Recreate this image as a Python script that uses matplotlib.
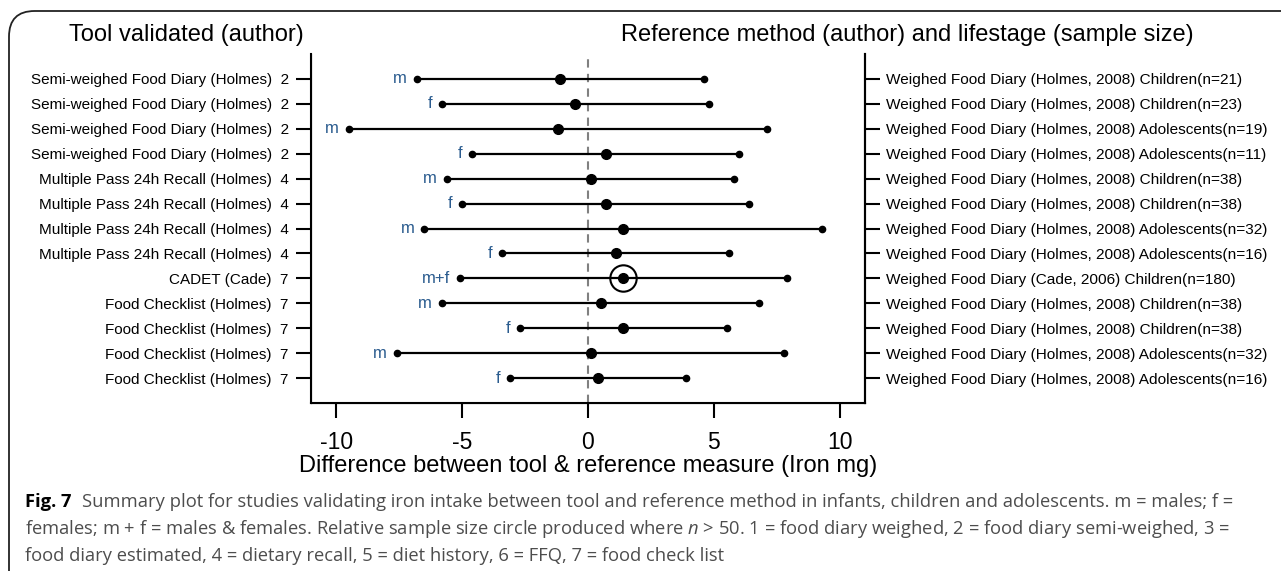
import matplotlib.pyplot as plt
from matplotlib.patches import FancyBboxPatch

plt.rcParams['font.family'] = ['Liberation Sans', 'DejaVu Sans']
plt.rcParams['mathtext.fontset'] = 'custom'
plt.rcParams['mathtext.it'] = 'Open Sans:italic'

tool_names = ['Semi-weighed Food Diary (Holmes)'] * 4 + ['Multiple Pass 24h Recall (Holmes)'] * 4 + \
             ['CADET (Cade)'] + ['Food Checklist (Holmes)'] * 4
tool_codes = ['2', '2', '2', '2', '4', '4', '4', '4', '7', '7', '7', '7', '7']
ref_labels = ['Weighed Food Diary (Holmes, 2008) Children(n=21)',
              'Weighed Food Diary (Holmes, 2008) Children(n=23)',
              'Weighed Food Diary (Holmes, 2008) Adolescents(n=19)',
              'Weighed Food Diary (Holmes, 2008) Adolescents(n=11)',
              'Weighed Food Diary (Holmes, 2008) Children(n=38)',
              'Weighed Food Diary (Holmes, 2008) Children(n=38)',
              'Weighed Food Diary (Holmes, 2008) Adolescents(n=32)',
              'Weighed Food Diary (Holmes, 2008) Adolescents(n=16)',
              'Weighed Food Diary (Cade, 2006) Children(n=180)',
              'Weighed Food Diary (Holmes, 2008) Children(n=38)',
              'Weighed Food Diary (Holmes, 2008) Children(n=38)',
              'Weighed Food Diary (Holmes, 2008) Adolescents(n=32)',
              'Weighed Food Diary (Holmes, 2008) Adolescents(n=16)']
sample_n = [21, 23, 19, 11, 38, 38, 32, 16, 180, 38, 38, 32, 16]
sex = ['m', 'f', 'm', 'f', 'm', 'f', 'm', 'f', 'm+f', 'm', 'f', 'm', 'f']
lower = [-6.8, -5.8, -9.5, -4.6, -5.6, -5.0, -6.5, -3.4, -5.1, -5.8, -2.7, -7.6, -3.1]
mean = [-1.1, -0.5, -1.2, 0.7, 0.1, 0.7, 1.4, 1.1, 1.4, 0.5, 1.4, 0.1, 0.4]
upper = [4.6, 4.8, 7.1, 6.0, 5.8, 6.4, 9.3, 5.6, 7.9, 6.8, 5.5, 7.8, 3.9]

W, H = 1281, 571
fig = plt.figure(figsize=(W / 100, H / 100), dpi=100)
ax = fig.add_axes([311 / W, 1 - 403 / H, (865 - 311) / W, (403 - 54) / H])

rows = list(range(1, len(mean) + 1))
lab_col = '#2b5c8f'

ax.axvline(0, color='#808080', lw=1.5, ls=(0, (4, 3)), zorder=1)
for y, lo, m, hi, s, n in zip(rows, lower, mean, upper, sex, sample_n):
    ax.plot([lo, hi], [y, y], color='black', lw=1.6, zorder=2)
    ax.plot([lo, hi], [y, y], 'o', color='black', ms=4.5, zorder=3)
    ax.plot(m, y, 'o', color='black', ms=7, zorder=4)
    if n > 50:
        ax.plot(m, y, 'o', mfc='none', mec='black', mew=1.5, ms=19, zorder=4)
    ax.annotate(s, (lo, y), xytext=(-7, 0), textcoords='offset points',
                ha='right', va='center', fontsize=12, color=lab_col)

ax.set_xlim(-11, 11)
ax.set_ylim(len(mean) + 1, 0)
ax.set_xticks([-10, -5, 0, 5, 10])
ax.set_xticklabels(['-10', '-5', '0', '5', '10'])
ax.set_yticks(rows)
ax.set_yticklabels([f'{t}  {c}' for t, c in zip(tool_names, tool_codes)])
ax.tick_params(axis='y', length=11, width=1.5, pad=5, labelsize=11)
ax.tick_params(axis='x', length=11, width=1.5, pad=9, labelsize=16.5)
ax.spines['top'].set_visible(False)
for sp in ['left', 'right', 'bottom']:
    ax.spines[sp].set_linewidth(1.5)
ax.set_xlabel('Difference between tool & reference measure (Iron mg)', fontsize=17, labelpad=1)

ax2 = ax.twinx()
ax2.set_ylim(len(mean) + 1, 0)
ax2.set_yticks(rows)
ax2.set_yticklabels(ref_labels)
ax2.tick_params(axis='y', length=11, width=1.5, pad=4, labelsize=11.1)
ax2.spines['top'].set_visible(False)
ax2.spines['right'].set_linewidth(1.5)

fig.text(186 / W, 1 - 35 / H, 'Tool validated (author)', ha='center', va='center', fontsize=17)
fig.text(907 / W, 1 - 35 / H, 'Reference method (author) and lifestage (sample size)',
         ha='center', va='center', fontsize=17)

# rounded frame, open on right and bottom
frame = FancyBboxPatch((9 / W, -0.2), 1.2, 1 - 11 / H + 0.2, boxstyle='round,pad=0,rounding_size=0.02',
                       transform=fig.transFigure, fill=False, ec='#222222', lw=1.3, mutation_aspect=W / H)
fig.add_artist(frame)

cap_kw = dict(fontsize=13.2, color='#4d4d4d', family='Open Sans', va='center')
fig.text(25 / W, 1 - 502 / H, 'Fig. 7', fontsize=13.2, weight='bold', color='black', family='Open Sans', va='center')
fig.text(82 / W, 1 - 502 / H, 'Summary plot for studies validating iron intake between tool and reference method in infants, '
         'children and adolescents. m = males; f =', **cap_kw)
fig.text(25 / W, 1 - 529 / H, 'females; m + f = males & females. Relative sample size circle produced where $n$ > 50. '
         '1 = food diary weighed, 2 = food diary semi-weighed, 3 =', **cap_kw)
fig.text(25 / W, 1 - 556 / H, 'food diary estimated, 4 = dietary recall, 5 = diet history, 6 = FFQ, 7 = food check list',
         **cap_kw)

fig.savefig('out.png', dpi=100)
